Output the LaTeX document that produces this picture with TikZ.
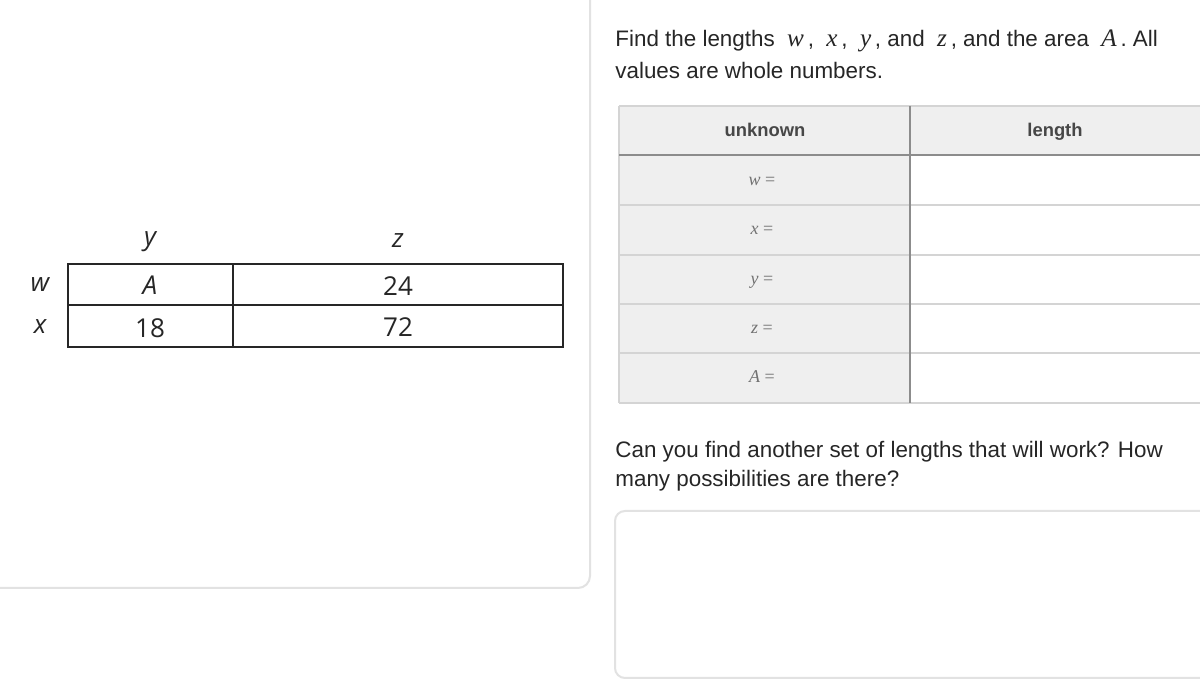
\documentclass[tikz,border=0pt]{standalone}
\usepackage{fontspec}
\setmainfont{Liberation Sans}
\newfontfamily\figfont{Open Sans}
\newfontfamily\varfont{Liberation Serif}
\definecolor{ink}{HTML}{262626}
\definecolor{hdrfill}{HTML}{EFEFEF}
\definecolor{rowline}{HTML}{D4D4D4}
\definecolor{colline}{HTML}{8C8C8C}
\definecolor{cardline}{HTML}{E2E2E2}
\newcommand{\var}[1]{\;{\varfont\itshape\fontsize{12.6}{14}\selectfont #1}\,}

\begin{document}
\begin{tikzpicture}[x=0.5pt,y=-0.5pt]
\tikzstyle{every node}+=[inner sep=0pt]
\tikzstyle{fig}=[font=\figfont\fontsize{13}{15}\selectfont, text=ink]
\tikzstyle{figvar}=[font=\figfont\itshape\fontsize{13}{15}\selectfont, text=ink]
\tikzstyle{prose}=[anchor=base west, font=\fontsize{11.2}{12}\selectfont, text=ink]
\tikzstyle{hdr}=[anchor=base, font=\bfseries\fontsize{9.2}{10}\selectfont, text=ink!85]
\tikzstyle{unk}=[anchor=base, font=\varfont\fontsize{9}{10}\selectfont, text=ink!65]
\useasboundingbox (0,0) rectangle (1200,683);
\clip (0,0) rectangle (1200,683);
\fill [white] (0,0) rectangle (1200,683);
% left card
\draw [cardline, line width=1pt, rounded corners=6] (-20,-20) rectangle (590,588);
% the area diagram
\draw [ink, line width=1.2pt] (68,264) rectangle (563,347);
\draw [ink, line width=1.2pt] (68,305) -- (563,305);
\draw [ink, line width=1.2pt] (233,264) -- (233,347);
\node [figvar] (ly) at (150,242) {y};
\node [figvar] (lz) at (398,241) {z};
\node [figvar] (lw) at (40,285) {w};
\node [figvar] (lx) at (40,327) {x};
\node [figvar] (cA) at (150,285) {A};
\node [fig] (c24) at (398,286) {24};
\node [fig] (c18) at (150,328) {18};
\node [fig] (c72) at (398,327) {72};
% question text
\node [prose] (q1) at (615,47) {Find the lengths \var{w}, \var{x}, \var{y}, and \var{z}, and the area \var{A}. All};
\node [prose] (q2) at (615,79) {values are whole numbers.};
% answer table
\fill [hdrfill] (619,106) rectangle (1210,155);
\fill [hdrfill] (619,155) rectangle (910,403);
\draw [rowline, line width=0.8pt] (619,106) -- (1210,106);
\draw [rowline, line width=0.8pt] (619,106) -- (619,403);
\foreach \y in {205,255,304,353,403}
  \draw [rowline, line width=0.8pt] (619,\y) -- (1210,\y);
\draw [colline, line width=0.8pt] (619,155) -- (1210,155);
\draw [colline, line width=0.8pt] (910,106) -- (910,403);
\node [hdr] (hunk) at (765,137) {unknown};
\node [hdr] (hlen) at (1055,137) {length};
\node [unk] (uw) at (762,186) {\itshape w \upshape=};
\node [unk] (ux) at (762,235) {\itshape x \upshape=};
\node [unk] (uy) at (762,285) {\itshape y \upshape=};
\node [unk] (uz) at (762,334) {\itshape z \upshape=};
\node [unk] (uA) at (762,383) {\itshape A \upshape=};
% follow-up question
\node [prose] (q3) at (615,458) {Can you find another set of lengths that will work? How};
\node [prose] (q4) at (615,487) {many possibilities are there?};
\draw [cardline, line width=1pt, rounded corners=5] (1215,678) -- (615,678) -- (615,511) -- (1215,511);
\end{tikzpicture}
\end{document}
